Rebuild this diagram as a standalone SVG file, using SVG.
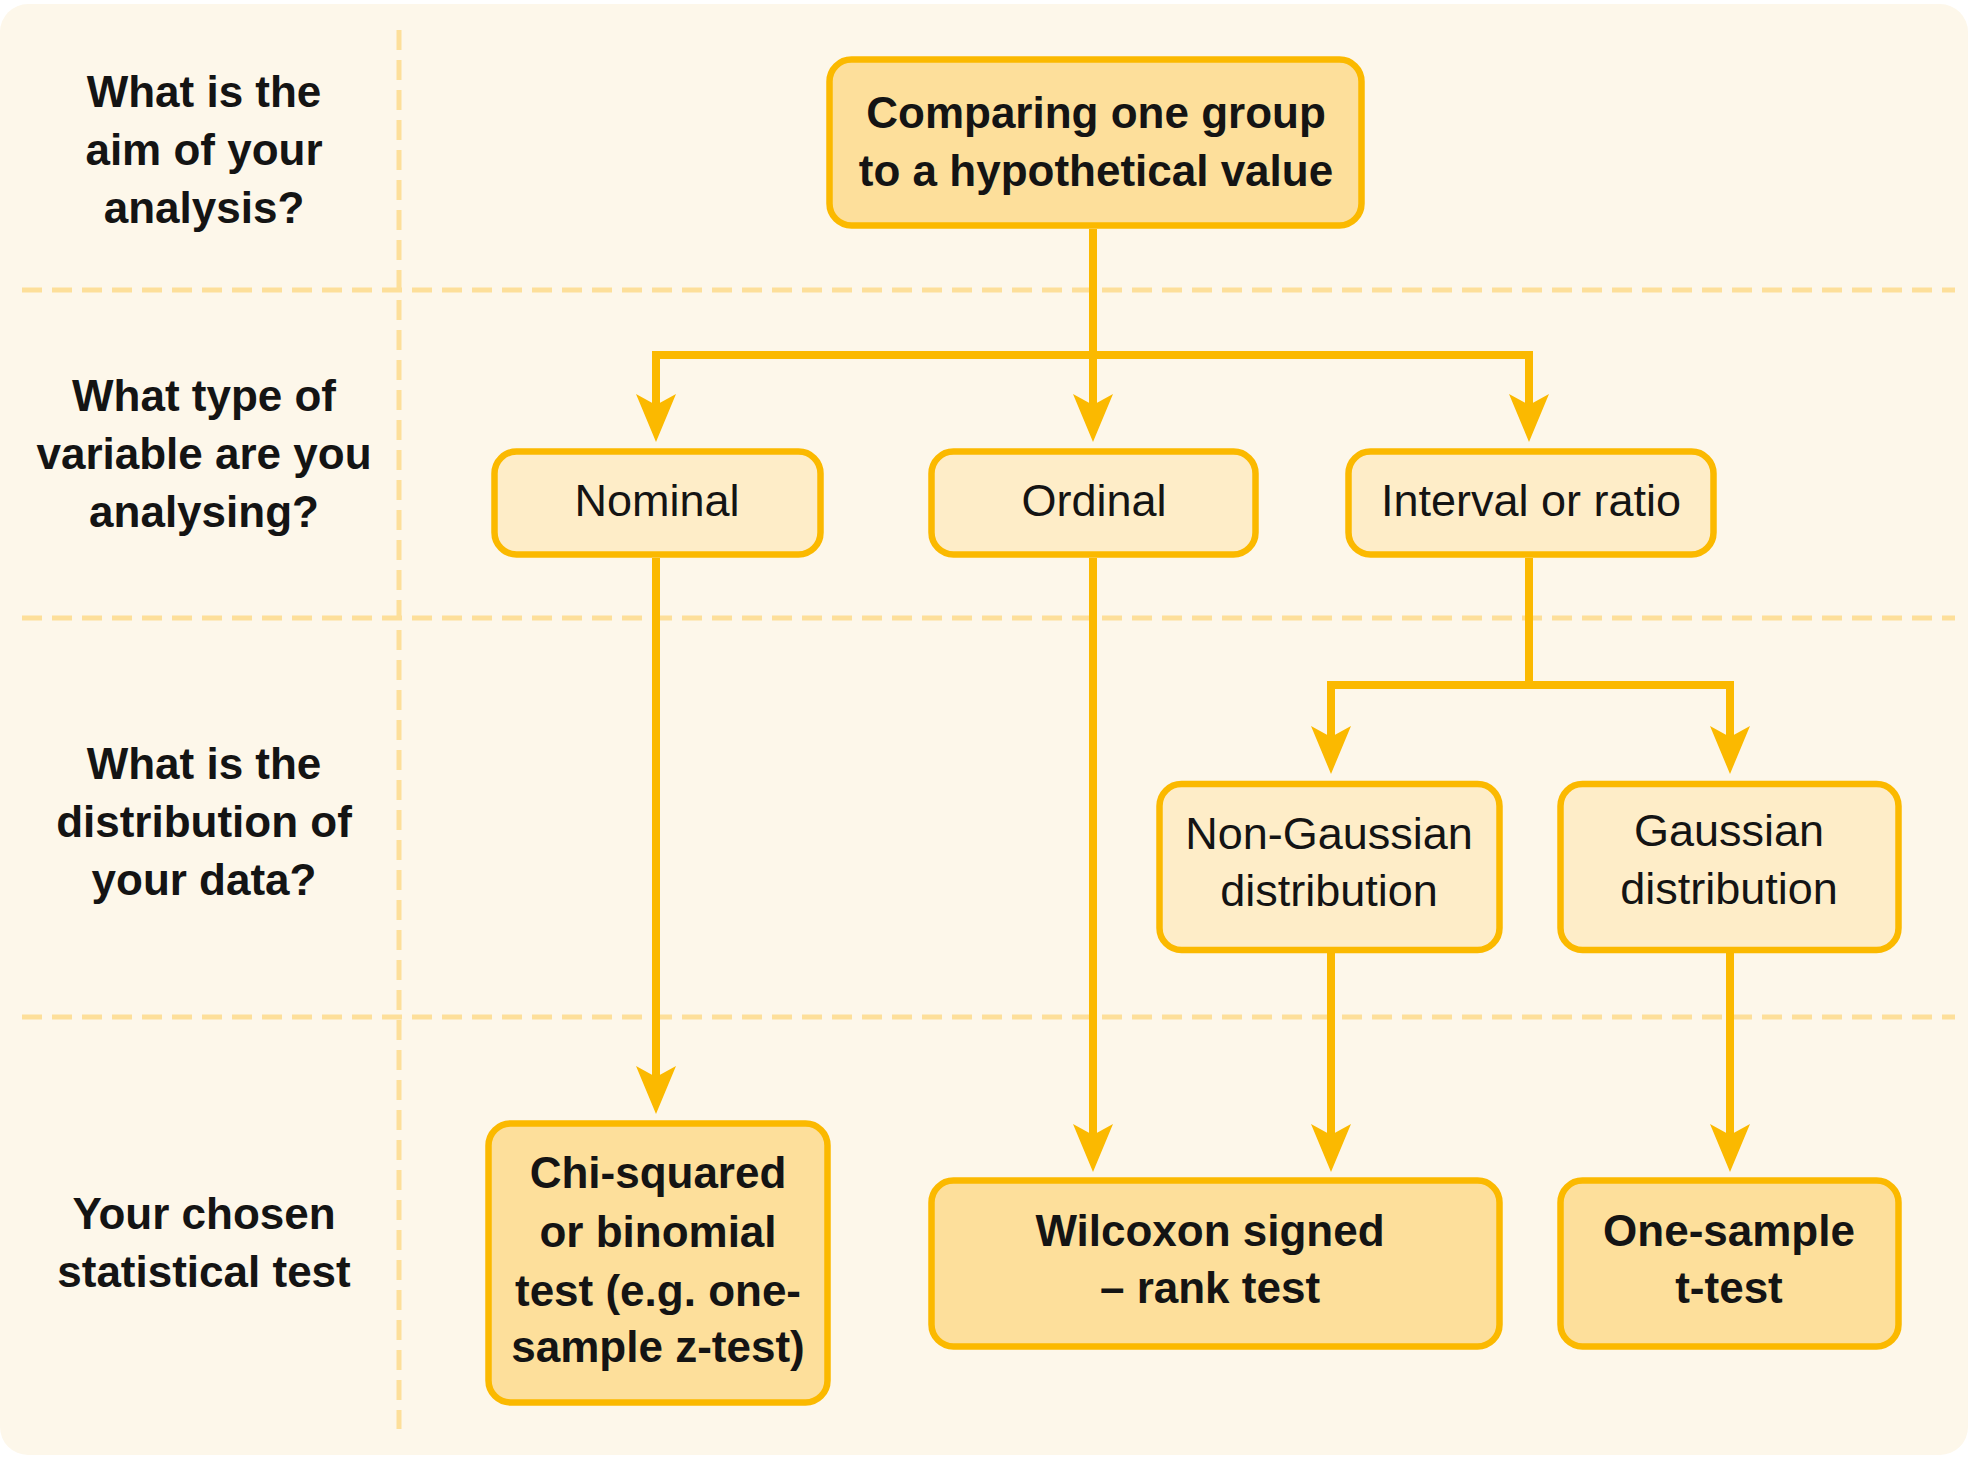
<svg xmlns="http://www.w3.org/2000/svg" width="1979" height="1458" viewBox="0 0 1979 1458">
<defs>
<style>
.bg{fill:#FDF7EA}
.dash{stroke:#FDDF9A;stroke-width:5;stroke-dasharray:20 10;fill:none}
.conn{stroke:#FBB900;stroke-width:8;fill:none;stroke-linejoin:miter}
.dark{fill:#FDDF9B;stroke:#FBB900;stroke-width:6.5}
.light{fill:#FEEDC8;stroke:#FBB900;stroke-width:6.5}
.b{font-family:"Liberation Sans",Arial,sans-serif;font-weight:bold;font-size:44px;fill:#141414;text-anchor:middle}
.r{font-family:"Liberation Sans",Arial,sans-serif;font-size:45px;fill:#141414;text-anchor:middle}
</style>
<marker id="arr" markerUnits="userSpaceOnUse" viewBox="-11 -20 48 40" refX="0" refY="0" markerWidth="48" markerHeight="40" orient="auto">
<path d="M37,0 L-11,-20 L0,0 L-11,20 Z" fill="#FBB900"/>
</marker>
</defs>
<rect class="bg" x="0" y="4" width="1968" height="1451" rx="28"/>
<g id="grid">
<line class="dash" x1="399" y1="30" x2="399" y2="1429"/>
<line class="dash" x1="22" y1="290" x2="1955" y2="290"/>
<line class="dash" x1="22" y1="618" x2="1955" y2="618"/>
<line class="dash" x1="22" y1="1017" x2="1955" y2="1017"/>
</g>
<g id="labels">
<text class="b" x="204"><tspan x="204" y="107">What is the</tspan><tspan x="204" y="165">aim of your</tspan><tspan x="204" y="223">analysis?</tspan></text>
<text class="b" x="204"><tspan x="204" y="411">What type of</tspan><tspan x="204" y="469">variable are you</tspan><tspan x="204" y="527">analysing?</tspan></text>
<text class="b" x="204"><tspan x="204" y="779">What is the</tspan><tspan x="204" y="837">distribution of</tspan><tspan x="204" y="895">your data?</tspan></text>
<text class="b" x="204"><tspan x="204" y="1229">Your chosen</tspan><tspan x="204" y="1287">statistical test</tspan></text>
</g>
<g id="connectors">
<path class="conn" d="M1093,229 V355 H656 V405" marker-end="url(#arr)"/>
<path class="conn" d="M1093,229 V405" marker-end="url(#arr)"/>
<path class="conn" d="M1093,355 H1529 V405" marker-end="url(#arr)"/>
<path class="conn" d="M656,558 V1077" marker-end="url(#arr)"/>
<path class="conn" d="M1093,558 V1135" marker-end="url(#arr)"/>
<path class="conn" d="M1529,558 V685 H1331 V737" marker-end="url(#arr)"/>
<path class="conn" d="M1529,685 H1730 V737" marker-end="url(#arr)"/>
<path class="conn" d="M1331,953 V1135" marker-end="url(#arr)"/>
<path class="conn" d="M1730,953 V1135" marker-end="url(#arr)"/>
</g>
<g id="node-aim">
<rect class="dark" x="829.5" y="59.5" width="532" height="166" rx="22"/>
<text class="b"><tspan x="1096" y="128">Comparing one group</tspan><tspan x="1096" y="186">to a hypothetical value</tspan></text>
</g>
<g id="node-nominal">
<rect class="light" x="494.5" y="451.5" width="326" height="103" rx="22"/>
<text class="r" x="657" y="516">Nominal</text>
</g>
<g id="node-ordinal">
<rect class="light" x="931.5" y="451.5" width="324" height="103" rx="22"/>
<text class="r" x="1094" y="516">Ordinal</text>
</g>
<g id="node-interval">
<rect class="light" x="1348.5" y="451.5" width="365" height="103" rx="22"/>
<text class="r" x="1531" y="516">Interval or ratio</text>
</g>
<g id="node-nongaussian">
<rect class="light" x="1159.5" y="784" width="340" height="166" rx="22"/>
<text class="r"><tspan x="1329" y="849">Non-Gaussian</tspan><tspan x="1329" y="906">distribution</tspan></text>
</g>
<g id="node-gaussian">
<rect class="light" x="1560.5" y="784" width="338" height="166" rx="22"/>
<text class="r"><tspan x="1729" y="846">Gaussian</tspan><tspan x="1729" y="904">distribution</tspan></text>
</g>
<g id="node-chi">
<rect class="dark" x="488.5" y="1123.5" width="339" height="279" rx="22"/>
<text class="b"><tspan x="658" y="1188">Chi-squared</tspan><tspan x="658" y="1247">or binomial</tspan><tspan x="658" y="1306">test (e.g. one-</tspan><tspan x="658" y="1362">sample z-test)</tspan></text>
</g>
<g id="node-wilcoxon">
<rect class="dark" x="931.5" y="1180.5" width="568" height="166" rx="22"/>
<text class="b"><tspan x="1210" y="1246">Wilcoxon signed</tspan><tspan x="1210" y="1303">– rank test</tspan></text>
</g>
<g id="node-onesample">
<rect class="dark" x="1560.5" y="1180.5" width="338" height="166" rx="22"/>
<text class="b"><tspan x="1729" y="1246">One-sample</tspan><tspan x="1729" y="1303">t-test</tspan></text>
</g>
</svg>
